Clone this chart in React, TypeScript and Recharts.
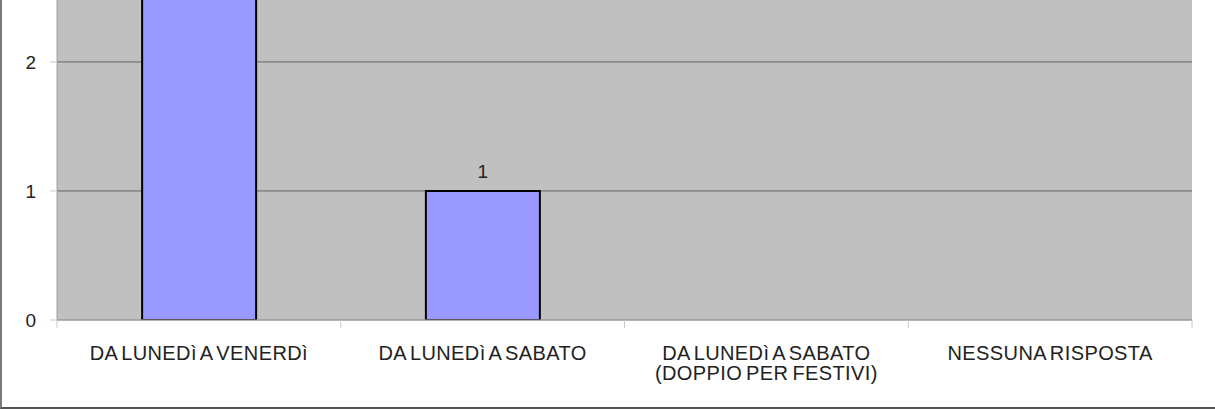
import { BarChart, Bar, XAxis, YAxis, CartesianGrid, LabelList } from "recharts";

const categories = [
  "DA LUNEDì A VENERDì",
  "DA LUNEDì A SABATO",
  "DA LUNEDì A SABATO\n(DOPPIO PER FESTIVI)",
  "NESSUNA RISPOSTA",
];
const counts = [5, 1, 0, 0];
const yTicks = [0, 1, 2];

const data = categories.map((name, i) => ({ name, count: counts[i] }));

const FONT = "Liberation Sans, Arial, sans-serif";

// category label plus tick marks on the band boundaries
const CategoryTick = (props: any) => {
  const { x, y, payload, index, visibleTicksCount, width } = props;
  const band = (width || 1135) / (visibleTicksCount || categories.length);
  const lines = String(payload.value).split("\n");
  const axisY = y - 8;
  return (
    <g>
      <line x1={x - band / 2} x2={x - band / 2} y1={axisY} y2={axisY + 8} stroke="#c8c8c8" />
      {index === visibleTicksCount - 1 && (
        <line x1={x + band / 2} x2={x + band / 2} y1={axisY} y2={axisY + 8} stroke="#c8c8c8" />
      )}
      {lines.map((line, i) => (
        <text
          key={i}
          x={x}
          y={y + 32 + i * 20}
          textAnchor="middle"
          fill="#222"
          fontSize={20}
          letterSpacing={0.4}
          wordSpacing={-2}
          fontFamily={FONT}
        >
          {line}
        </text>
      ))}
    </g>
  );
};

export default function App() {
  return (
    <div
      style={{
        position: "fixed",
        left: 0,
        top: 0,
        width: 1215,
        height: 409,
        background: "#fff",
        boxSizing: "border-box",
        borderLeft: "2px solid #7a7a7a",
        borderBottom: "2px solid #555",
      }}
    >
      <div style={{ position: "absolute", left: -2, top: 0 }}>
        <BarChart
          width={1215}
          height={409}
          data={data}
          margin={{ top: 0, right: 23, left: 0, bottom: 0 }}
          barCategoryGap="30%"
        >
          <CartesianGrid
            yAxisId="left"
            xAxisId="cat"
            vertical={false}
            horizontalValues={yTicks}
            fill="#c0c0c0"
            stroke="#666"
            strokeWidth={1}
          />
          <XAxis
            xAxisId="cat"
            dataKey="name"
            interval={0}
            tickSize={6}
            tickMargin={2}
            tickLine={false}
            axisLine={{ stroke: "#b3b3b3" }}
            tick={<CategoryTick />}
            height={89}
          />
          <YAxis
            yAxisId="left"
            domain={[0, 2.48]}
            allowDataOverflow
            ticks={yTicks}
            width={57}
            tickSize={7}
            tickMargin={14}
            tickLine={{ stroke: "#c8c8c8" }}
            axisLine={{ stroke: "#a0a0a0" }}
            tick={{ fill: "#222", fontSize: 19, fontFamily: FONT }}
          />
          <YAxis
            yAxisId="right"
            orientation="right"
            domain={[0, 2.48]}
            width={0}
            tick={false}
            tickLine={false}
            axisLine={{ stroke: "#7a7a7a", strokeWidth: 2 }}
          />
          <Bar
            dataKey="count"
            xAxisId="cat"
            yAxisId="left"
            fill="#9999ff"
            stroke="#000"
            strokeWidth={2}
            isAnimationActive={false}
          >
            <LabelList
              dataKey="count"
              position="top"
              offset={13}
              fill="#222"
              fontSize={19}
              fontFamily={FONT}
              formatter={(v: any) => (v ? v : "")}
            />
          </Bar>
        </BarChart>
      </div>
    </div>
  );
}
